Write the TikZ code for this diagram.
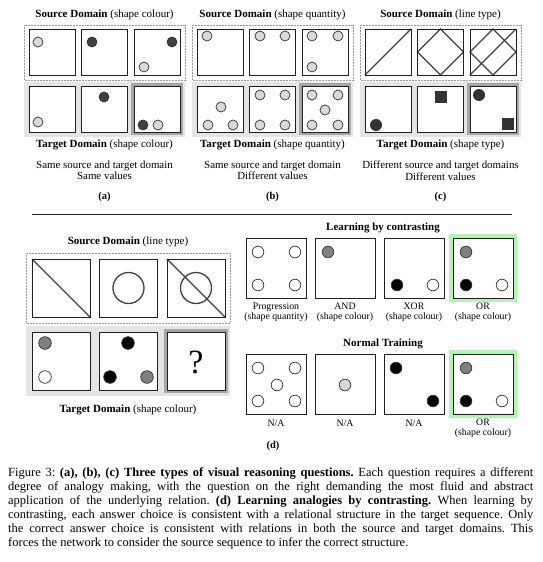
\documentclass[tikz,border=0pt]{standalone}
\usepackage{fontspec}
\setmainfont{Liberation Serif}
\begin{document}
\frenchspacing
\begin{tikzpicture}[x=1pt,y=-1pt,
  sq/.style={draw=black!88,line width=0.9pt,fill=white},
  srcbox/.style={draw=black!40,densely dotted,line width=0.5pt},
  tgtbox/.style={fill=black!10,draw=none},
  ansframe/.style={draw=black!35,line width=3pt},
  okframe/.style={draw=green!45!black!25!green!30,line width=3.2pt},
  cl/.style={draw=black!80,line width=0.7pt},
  lg/.style={cl,fill=black!15},
  dg/.style={cl,fill=black!75},
  gy/.style={cl,fill=black!50},
  bk/.style={cl,fill=black},
  wh/.style={cl,fill=white},
  ln/.style={draw=black!75,line width=1.3pt},
  ttl/.style={font=\fontsize{11}{12}\selectfont,inner sep=0pt},
  dsc/.style={font=\fontsize{10.9}{11.5}\selectfont,inner sep=0pt,align=center},
  lbl/.style={font=\fontsize{9.8}{10.5}\selectfont,inner sep=0pt,align=center},
  pan/.style={font=\fontsize{10.5}{12}\selectfont\bfseries,inner sep=0pt}]
\useasboundingbox (0,0) rectangle (542,562);
\fill[white] (0,0) rectangle (542,562);

% ---------- panels (a), (b), (c) ----------
\foreach \px/\st/\tt/\da/\db/\pl [count=\i] in
 {0/shape colour/shape colour/Same source and target domain/Same values/(a),
  168/shape quantity/shape quantity/Same source and target domain/Different values/(b),
  336/line type/shape type/Different source and target domains/Different values/(c)}{
  \draw[srcbox] (24+\px,25) rectangle (185+\px,80);
  \fill[tgtbox] (24+\px,82) rectangle (185+\px,137);
  \foreach \k in {0,1,2}{
    \draw[sq] (29+\px+52.5*\k,29) rectangle ++(46,46);
  }
  \draw[ansframe] (132.5+\px,84.5) rectangle (181.5+\px,133.5);
  \foreach \k in {0,1,2}{
    \draw[sq] (29+\px+52.5*\k,86) rectangle ++(46,46);
  }
  \node[ttl] (st\i) at (104.5+\px,15) {\textbf{Source Domain} (\st)};
  \node[ttl] (tt\i) at (104.5+\px,145) {\textbf{Target Domain} (\tt)};
  \node[dsc] (ds\i) at (104.5+\px,170.5) {\da\\\db};
  \node[pan] (pl\i) at (104.5+\px,197) {\pl};
}

% (a) contents
\draw[lg] (38,42) circle[radius=5];
\draw[dg] (92,42) circle[radius=5];
\draw[dg] (172,42) circle[radius=5];
\draw[lg] (144,67) circle[radius=5];
\draw[lg] (38,122) circle[radius=5];
\draw[dg] (104,97) circle[radius=5];
\draw[dg] (143,125) circle[radius=5];
\draw[lg] (158,125) circle[radius=5];

% (b) contents
\draw[lg] (207,36) circle[radius=5];
\draw[lg] (260,36) circle[radius=5];
\draw[lg] (285,36) circle[radius=5];
\draw[lg] (312,36) circle[radius=5];
\draw[lg] (338,36) circle[radius=5];
\draw[lg] (312,67) circle[radius=5];
\draw[lg] (221,107) circle[radius=5];
\draw[lg] (208,125) circle[radius=5];
\draw[lg] (233,125) circle[radius=5];
\foreach \cx in {260,285}{\foreach \cy in {95,125}{\draw[lg] (\cx,\cy) circle[radius=5];}}
\foreach \cx in {312,338}{\foreach \cy in {95,125}{\draw[lg] (\cx,\cy) circle[radius=5];}}
\draw[lg] (325,110) circle[radius=5];

% (c) contents
\draw[ln] (365,75) -- (411,29);
\draw[ln] (417.5,52) -- (440.5,29) -- (463.5,52) -- (440.5,75) -- cycle;
\draw[ln] (470,52) -- (493,29) -- (516,52) -- (493,75) -- cycle;
\draw[ln] (470,75) -- (516,29);
\draw[sq,fill=none] (365,29) rectangle ++(46,46);
\draw[sq,fill=none] (417.5,29) rectangle ++(46,46);
\draw[sq,fill=none] (470,29) rectangle ++(46,46);
\fill[black!80] (376,125) circle[radius=6];
\fill[black!80] (435,91) rectangle ++(12,12);
\fill[black!80] (479,95) circle[radius=6];
\fill[black!80] (502,118) rectangle ++(12,12);

% rule
\draw[line width=1pt,black!85] (32,214) -- (512,214);

% ---------- panel (d) left ----------
\draw[srcbox] (26,253) rectangle (230,323);
\fill[tgtbox] (26,326) rectangle (230,396);
\foreach \k in {0,1,2}{\draw[sq] (32+67.5*\k,259) rectangle ++(58,58);}
\draw[ansframe] (165.5,330.5) rectangle (226.5,391.5);
\foreach \k in {0,1,2}{\draw[sq] (32+67.5*\k,332) rectangle ++(58,58);}
\draw[ln] (32,259) -- (90,317);
\draw[ln] (128.5,288) circle[radius=15.5];
\draw[ln] (196,288) circle[radius=15.5];
\draw[ln] (167,259) -- (225,317);
\draw[sq,fill=none] (167,259) rectangle ++(58,58);
\draw[sq,fill=none] (32,259) rectangle ++(58,58);
\draw[gy] (45,343) circle[radius=6.3];
\draw[wh] (45,377) circle[radius=6.3];
\draw[bk] (128,343) circle[radius=6.3];
\draw[bk] (110,377) circle[radius=6.3];
\draw[gy] (147,377) circle[radius=6.3];
\node[font=\fontsize{34}{34}\selectfont,inner sep=0pt] (qm) at (196,362) {?};
\node[ttl] (dst) at (128,242) {\textbf{Source Domain} (line type)};
\node[ttl] (dtt) at (128,410) {\textbf{Target Domain} (shape colour)};

% ---------- panel (d) right ----------
\node[ttl] (lbc) at (383,228) {\textbf{Learning by contrasting}};
\node[ttl] (ntr) at (383,344) {\textbf{Normal Training}};
\draw[okframe] (451,236) rectangle (515,300);
\draw[okframe] (451,352) rectangle (515,416);
\foreach \xx in {246,315,384,453}{
  \draw[sq] (\xx,238) rectangle ++(60,60);
  \draw[sq] (\xx,354) rectangle ++(60,60);
}
% top row
\foreach \cx in {258,295}{\foreach \cy in {252,285}{\draw[wh] (\cx,\cy) circle[radius=5.8];}}
\draw[gy] (328,252) circle[radius=5.8];
\draw[bk] (397,285) circle[radius=5.8];
\draw[wh] (433,285) circle[radius=5.8];
\draw[gy] (466,252) circle[radius=5.8];
\draw[bk] (466,285) circle[radius=5.8];
\draw[wh] (502,285) circle[radius=5.8];
% bottom row
\foreach \cx in {258,295}{\foreach \cy in {368,401}{\draw[wh] (\cx,\cy) circle[radius=5.8];}}
\draw[wh] (277,385) circle[radius=5.8];
\draw[lg] (345,385) circle[radius=5.8];
\draw[bk] (396,368) circle[radius=5.8];
\draw[bk] (433,401) circle[radius=5.8];
\draw[gy] (466,368) circle[radius=5.8];
\draw[bk] (466,401) circle[radius=5.8];
\draw[wh] (502,401) circle[radius=5.8];
% labels
\node[lbl] (l1) at (276,312.5) {Progression\\(shape quantity)};
\node[lbl] (l2) at (345,312.5) {AND\\(shape colour)};
\node[lbl] (l3) at (414,312.5) {XOR\\(shape colour)};
\node[lbl] (l4) at (483,312.5) {OR\\(shape colour)};
\node[lbl] (m1) at (276,423) {N/A};
\node[lbl] (m2) at (345,423) {N/A};
\node[lbl] (m3) at (414,423) {N/A};
\node[lbl] (m4) at (483,428.5) {OR\\(shape colour)};
\node[pan] (pd) at (273,446) {(d)};

% ---------- caption ----------
\node[anchor=north west,inner sep=0pt,text width=525pt,align=justify,
      font=\fontsize{12.5}{14}\selectfont] (cap) at (8,467) {%
Figure 3: \textbf{(a), (b), (c) Three types of visual reasoning questions.} Each question requires a different\linebreak
degree of analogy making, with the question on the right demanding the most fluid and abstract\linebreak
application of the underlying relation. \textbf{(d) Learning analogies by contrasting.} When learning by\linebreak
contrasting, each answer choice is consistent with a relational structure in the target sequence. Only\linebreak
the correct answer choice is consistent with relations in both the source and target domains. This\linebreak
forces the network to consider the source sequence to infer the correct structure.};
\end{tikzpicture}
\end{document}
